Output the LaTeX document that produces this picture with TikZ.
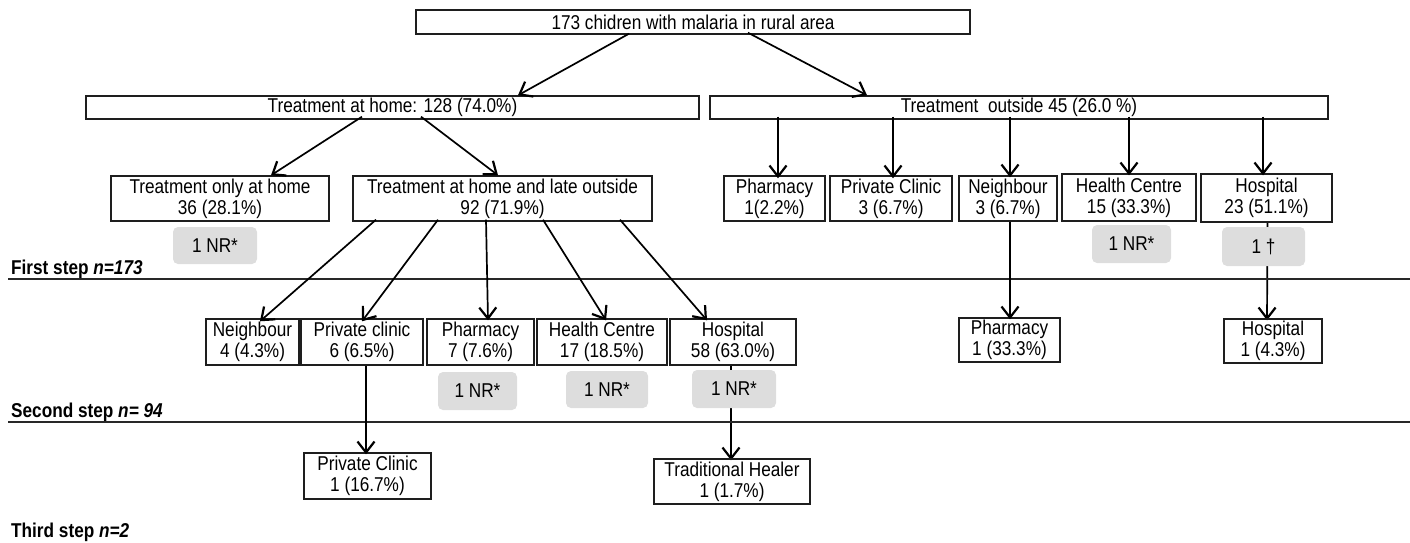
\documentclass[tikz,border=0pt]{standalone}
\usepackage{fontspec}
\setmainfont{Liberation Sans}[FakeStretch=0.86]
\usetikzlibrary{arrows.meta,backgrounds}
\definecolor{nrgray}{RGB}{221,221,221}
\definecolor{rulegray}{RGB}{40,40,40}
\definecolor{boxline}{RGB}{30,30,30}
\begin{document}
\begin{tikzpicture}[x=1pt,y=-1pt,
  every node/.style={font=\fontsize{20}{21}\selectfont},
  bx/.style={draw=boxline, line width=1.4pt, inner sep=0pt, align=center, minimum height=46},
  nrbox/.style={fill=nrgray, rounded corners=5pt, inner sep=0pt, minimum height=38, align=center},
  arr/.style={line width=1.7pt, -{Straight Barb[length=11pt,width=17pt,line width=2.2pt]}},
  steprule/.style={line width=1.8pt, draw=rulegray},
  steplabel/.style={anchor=base west, inner sep=0pt, font=\fontsize{20}{21}\selectfont\bfseries}
]
\useasboundingbox (0,0) rectangle (1410,543);

% top
\node[bx, minimum width=554, minimum height=24] (top) at (693,22) {173 chidren with malaria in rural area};
\node[bx, minimum width=613, minimum height=23] (home) at (392.5,107.5) {Treatment at home: 128 (74.0\%)};
\node[bx, minimum width=618, minimum height=23] (out) at (1019,107.5) {Treatment\ \ outside 45 (26.0 \%)};

% home branch
\node[bx, minimum width=218, minimum height=45] (only) at (220,198.5) {Treatment only at home\\36 (28.1\%)};
\node[bx, minimum width=299, minimum height=45] (late) at (502.5,198.5) {Treatment at home and late outside\\92 (71.9\%)};
\node[nrbox, minimum width=84, minimum height=37] (nrA) at (215,245.5) {1 NR*};

% outside branch
\node[bx, minimum width=101, minimum height=45] (pharmA) at (774.5,198.5) {Pharmacy\\1(2.2\%)};
\node[bx, minimum width=122, minimum height=45] (pcA) at (891,198.5) {Private Clinic\\3 (6.7\%)};
\node[bx, minimum width=98, minimum height=45] (neighA) at (1008,198.5) {Neighbour\\3 (6.7\%)};
\node[bx, minimum width=134, minimum height=47] (hcA) at (1129,197.5) {Health Centre\\15 (33.3\%)};
\node[bx, minimum width=131, minimum height=48] (hospA) at (1266.5,198) {Hospital\\23 (51.1\%)};
\node[nrbox, minimum width=79] (nrB) at (1131.5,244) {1 NR*};
\node[nrbox, minimum width=83, minimum height=39] (dag) at (1263.5,246.5) {1 †};

% second row
\node[bx, minimum width=93] (neighB) at (252.5,342) {Neighbour\\4 (4.3\%)};
\node[bx, minimum width=122] (pcB) at (362,342) {Private clinic\\6 (6.5\%)};
\node[bx, minimum width=107] (pharmB) at (480.5,342) {Pharmacy\\7 (7.6\%)};
\node[bx, minimum width=130] (hcB) at (602,342) {Health Centre\\17 (18.5\%)};
\node[bx, minimum width=126] (hospB) at (733,342) {Hospital\\58 (63.0\%)};
\node[bx, minimum width=101, minimum height=44] (pharmC) at (1009.5,340) {Pharmacy\\1 (33.3\%)};
\node[bx, minimum width=98, minimum height=44] (hospC) at (1273,341) {Hospital\\1 (4.3\%)};

\node[nrbox, minimum width=79] (nrC) at (477.5,391) {1 NR*};
\node[nrbox, minimum width=82, minimum height=37] (nrD) at (607,389.5) {1 NR*};
\node[nrbox, minimum width=84] (nrE) at (734,389) {1 NR*};

% third row
\node[bx, minimum width=127] (pcC) at (367.5,476) {Private Clinic\\1 (16.7\%)};
\node[bx, minimum width=156, minimum height=45] (th) at (732,481.5) {Traditional Healer\\1 (1.7\%)};

% step labels and rules
\node[steplabel] (s1) at (11,274) {First step \textit{n=173}};
\node[steplabel] (s2) at (11,417) {Second step \textit{n= 94}};
\node[steplabel] (s3) at (11,537) {Third step \textit{n=2}};
\draw[steprule] (8,279) -- (1410,279);
\draw[steprule] (8,422) -- (1410,422);

% connectors
\draw[arr] ([xshift=-64,yshift=1]top.south) -- ([xshift=125.5]home.north);
\draw[arr] ([xshift=55,yshift=2]top.south) -- ([xshift=-152]out.north);

\draw[arr] ([xshift=-30.5,yshift=3]home.south) -- ([xshift=51]only.north);
\draw[arr] ([xshift=28.5,yshift=3]home.south) -- ([xshift=-4.5]late.north);

\draw[arr] ([xshift=3.5,yshift=3]pharmA.north |- out.south) -- ([xshift=3.5,yshift=-3]pharmA.north);
\draw[arr] ([xshift=2,yshift=3]pcA.north |- out.south) -- ([xshift=2,yshift=-3]pcA.north);
\draw[arr] ([xshift=2,yshift=3]neighA.north |- out.south) -- ([xshift=2,yshift=-2]neighA.north);
\draw[arr] ([yshift=3]hcA.north |- out.south) -- ([yshift=-2]hcA.north);
\draw[arr] ([xshift=-3.5,yshift=3]hospA.north |- out.south) -- ([xshift=-3.5,yshift=-2]hospA.north);

\draw[arr] ([xshift=-126.5,yshift=2]late.south) -- ([xshift=7.5,yshift=-3]neighB.north);
\draw[arr] ([xshift=-64.5,yshift=2]late.south) -- ([yshift=-3]pcB.north);
\draw[arr] ([xshift=-16.5,yshift=2]late.south) -- ([xshift=7.5,yshift=-2]pharmB.north);
\draw[arr] ([xshift=40.5,yshift=2]late.south) -- ([xshift=4,yshift=-2]hcB.north);
\draw[arr] ([xshift=117.5,yshift=2]late.south) -- ([xshift=-26,yshift=-2]hospB.north);

\draw[arr] ([xshift=2]neighA.south) -- ([xshift=0.5,yshift=-2]pharmC.north);

\begin{scope}[on background layer]
\draw[arr] ([xshift=1]hospA.south) -- ([xshift=-6,yshift=-2]hospC.north);
\draw[arr] ([xshift=-2]hospB.south) -- ([xshift=-1,yshift=-2]th.north);
\end{scope}
\draw[arr] ([xshift=4]pcB.south) -- ([xshift=-1.5,yshift=-2]pcC.north);
\end{tikzpicture}
\end{document}
